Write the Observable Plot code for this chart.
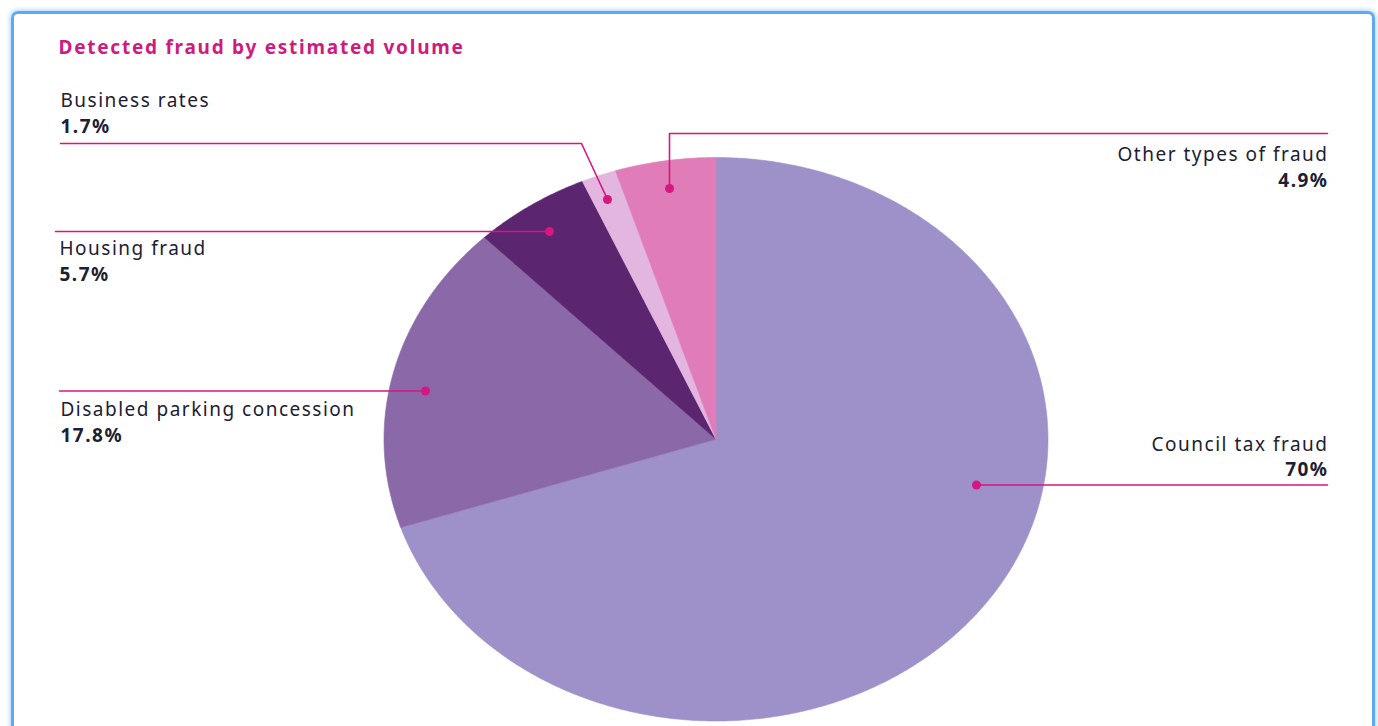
<!DOCTYPE html>
<html><head><meta charset="utf-8">
<script src="https://cdn.jsdelivr.net/npm/d3@7"></script>
<script src="https://cdn.jsdelivr.net/npm/@observablehq/plot@0.6"></script>
<style>
html,body{margin:0;padding:0;background:#fff;overflow:hidden;}
#frame{position:absolute;left:11px;top:11px;width:1358px;height:740px;border:3px solid #5ea9ef;border-radius:7px;box-shadow:0 0 5px 1px #a9d3f8;}
#chart{position:absolute;left:0;top:0;}
#chart svg text{letter-spacing:1.5px;}
#chart svg > g:last-of-type text{letter-spacing:1.75px;}
</style></head><body>
<div id="frame"></div>
<div id="chart"></div>
<script>
// ---- data ----
const categories = ["Council tax fraud", "Disabled parking concession", "Housing fraud", "Business rates", "Other types of fraud"];
const shares = [70, 17.8, 5.7, 1.7, 4.9];
const shareLabels = ["70%", "17.8%", "5.7%", "1.7%", "4.9%"];
const sliceColors = ["#9e91ca", "#8b69a9", "#5c2570", "#e2b6df", "#e07cb8"];
const title = "Detected fraud by estimated volume";

// ---- layout (pixels) ----
const W = 1378, H = 726;
const xRange = [383.5, 1047.5], yRange = [720.5, 157];
const cx = (xRange[0] + xRange[1]) / 2, cy = (yRange[0] + yRange[1]) / 2;
const rx = (xRange[1] - xRange[0]) / 2, ry = (yRange[0] - yRange[1]) / 2;
const X = px => (px - cx) / rx;
const Y = py => (cy - py) / ry;

// label layout per category: leader path (pixels), text anchor
const labelLayout = {
  "Council tax fraud":          {path: [[976, 484.5], [1327, 484.5]], tx: 1328, ty1: 450, ty2: 475, anchor: "end"},
  "Disabled parking concession":{path: [[425, 390.5], [59, 390.5]], tx: 60, ty1: 415, ty2: 441, anchor: "start"},
  "Housing fraud":              {path: [[549, 231], [55, 231]], tx: 59, ty1: 254, ty2: 280, anchor: "start"},
  "Business rates":             {path: [[607, 199], [581, 143], [60, 143]], tx: 60, ty1: 106, ty2: 132, anchor: "start"},
  "Other types of fraud":       {path: [[669, 188], [669, 133], [1327, 133]], tx: 1328, ty1: 160, ty2: 186, anchor: "end"}
};

// ---- pie geometry from data ----
const total = d3.sum(shares);
const slices = [];
let acc = 0;
categories.forEach((c, i) => {
  const a0 = acc / total * 2 * Math.PI;
  acc += shares[i];
  const a1 = acc / total * 2 * Math.PI;
  slices.push({cat: c, x: 0, y: 0});
  const n = Math.max(2, Math.ceil((a1 - a0) / (Math.PI / 360)));
  for (let k = 0; k <= n; k++) {
    const a = a0 + (a1 - a0) * k / n;
    slices.push({cat: c, x: Math.sin(a), y: Math.cos(a)});
  }
  slices.push({cat: c, x: 0, y: 0});
});

const leaders = [];
const dots = [];
const names = [];
const values = [];
categories.forEach((c, i) => {
  const L = labelLayout[c];
  L.path.forEach(p => leaders.push({cat: c, x: X(p[0]), y: Y(p[1])}));
  dots.push({cat: c, x: X(L.path[0][0]), y: Y(L.path[0][1])});
  names.push({cat: c, text: c, x: X(L.tx), y: Y(L.ty1), anchor: L.anchor});
  values.push({cat: c, text: shareLabels[i], x: X(L.tx), y: Y(L.ty2), anchor: L.anchor});
});

const pink = "#d5177f";
const textColor = "#1d2033";
const font = "'Noto Sans', sans-serif";

const chart = Plot.plot({
  width: W, height: H,
  margin: 0,
  style: {background: "transparent", fontFamily: font, overflow: "visible"},
  x: {domain: [-1, 1], range: xRange, axis: null},
  y: {domain: [-1, 1], range: yRange, axis: null},
  color: {domain: categories, range: sliceColors},
  marks: [
    Plot.line(slices, {x: "x", y: "y", z: "cat", fill: "cat", stroke: "cat", strokeWidth: 0.6, curve: "linear"}),
    Plot.line(leaders, {x: "x", y: "y", z: "cat", stroke: pink, strokeWidth: 1.6, curve: "linear"}),
    Plot.dot(dots, {x: "x", y: "y", r: 4.5, fill: pink, stroke: "none"}),
    Plot.text(names.filter(d => d.anchor === "start"), {x: "x", y: "y", text: "text", textAnchor: "start", lineAnchor: "bottom", fontSize: 19, fill: textColor}),
    Plot.text(names.filter(d => d.anchor === "end"), {x: "x", y: "y", text: "text", textAnchor: "end", lineAnchor: "bottom", fontSize: 19, fill: textColor}),
    Plot.text(values.filter(d => d.anchor === "start"), {x: "x", y: "y", text: "text", textAnchor: "start", lineAnchor: "bottom", fontSize: 19, fontWeight: "bold", fill: textColor}),
    Plot.text(values.filter(d => d.anchor === "end"), {x: "x", y: "y", text: "text", textAnchor: "end", lineAnchor: "bottom", fontSize: 19, fontWeight: "bold", fill: textColor}),
    Plot.text([title], {x: X(58), y: Y(53), text: d => d, textAnchor: "start", lineAnchor: "bottom", fontSize: 19, fontWeight: "bold", fill: "#cf1a7e"})
  ]
});
document.getElementById("chart").appendChild(chart);
</script>
</body></html>
